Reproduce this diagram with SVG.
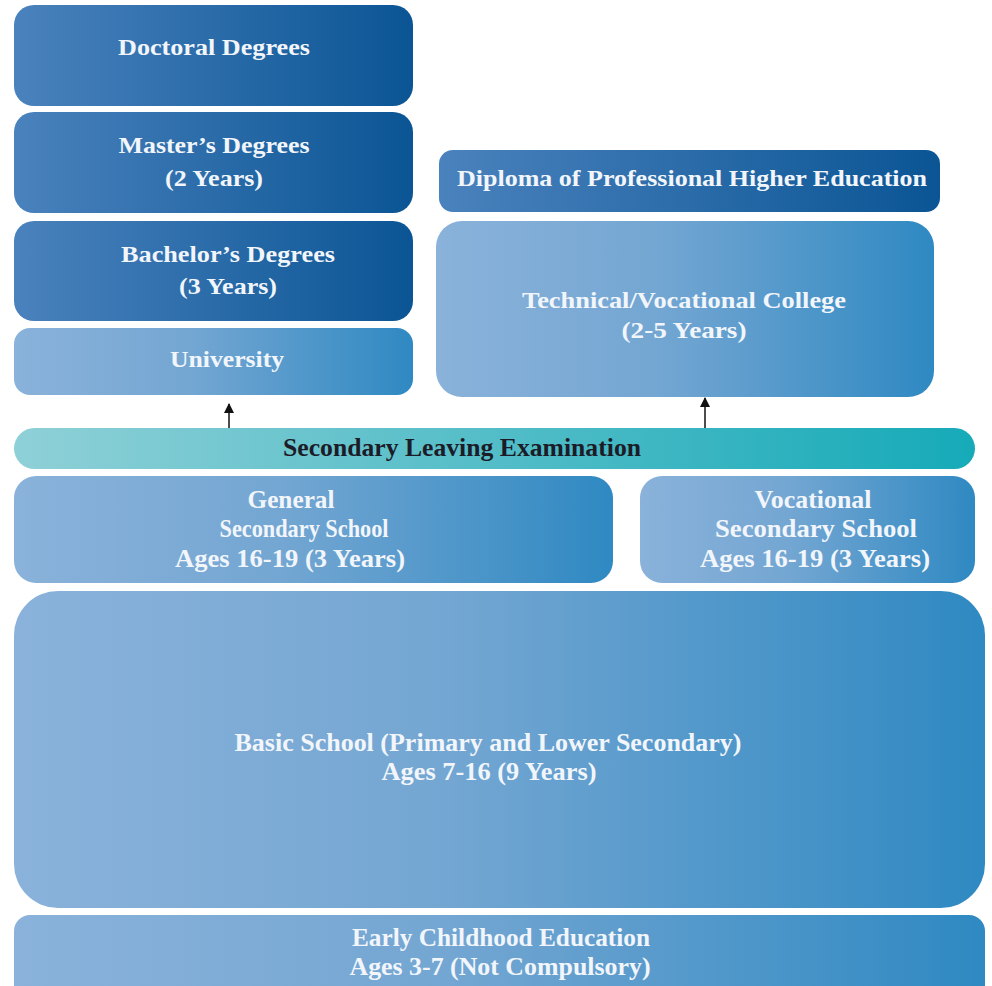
<svg xmlns="http://www.w3.org/2000/svg" width="992" height="986" viewBox="0 0 992 986">
<defs>
<linearGradient id="gDark" x1="0" y1="0" x2="1" y2="0">
<stop offset="0" stop-color="#4a82bd"/>
<stop offset="1" stop-color="#0b5595"/>
</linearGradient>
<linearGradient id="gLight" x1="0" y1="0" x2="1" y2="0">
<stop offset="0" stop-color="#8ab2da"/>
<stop offset="0.45" stop-color="#73a6d2"/>
<stop offset="1" stop-color="#2f89c2"/>
</linearGradient>
<linearGradient id="gTeal" x1="0" y1="0" x2="1" y2="0">
<stop offset="0" stop-color="#8fd0d7"/>
<stop offset="1" stop-color="#16aab8"/>
</linearGradient>
<marker id="arr" viewBox="0 0 10 10" refX="9" refY="5" markerWidth="7" markerHeight="7" orient="auto">
<path d="M0,0 L10,5 L0,10 z" fill="#111"/>
</marker>
</defs>
<style>
text{font-family:"Liberation Serif","DejaVu Serif",serif;font-weight:bold;font-size:24px;fill:#f2f6fb;text-anchor:middle}
.c{font-family:"Liberation Serif",serif;font-size:25px}
.dk{fill:#1c1c28}
.dark{fill:url(#gDark)}
.light{fill:url(#gLight)}
</style>
<rect width="992" height="986" fill="#ffffff"/>
<g id="doctoral"><rect class="dark" x="14" y="5" width="399" height="101" rx="20"/><text x="214" y="55" textLength="192" lengthAdjust="spacingAndGlyphs">Doctoral Degrees</text></g>
<g id="masters"><rect class="dark" x="14" y="112" width="399" height="101" rx="20"/><text x="214" y="153" textLength="191" lengthAdjust="spacingAndGlyphs">Master’s Degrees</text><text x="214" y="186" textLength="98" lengthAdjust="spacingAndGlyphs">(2 Years)</text></g>
<g id="bachelors"><rect class="dark" x="14" y="221" width="399" height="100" rx="20"/><text x="228" y="262" textLength="214" lengthAdjust="spacingAndGlyphs">Bachelor’s Degrees</text><text x="228" y="294" textLength="98" lengthAdjust="spacingAndGlyphs">(3 Years)</text></g>
<g id="university"><rect class="light" x="14" y="328" width="399" height="67" rx="16"/><text x="227" y="367" textLength="114" lengthAdjust="spacingAndGlyphs">University</text></g>
<g id="diploma"><rect class="dark" x="439" y="150" width="501" height="62" rx="14"/><text x="692" y="186" textLength="470" lengthAdjust="spacingAndGlyphs">Diploma of Professional Higher Education</text></g>
<g id="technical"><rect class="light" x="436" y="221" width="498" height="176" rx="26"/><text x="684" y="308" textLength="324" lengthAdjust="spacingAndGlyphs">Technical/Vocational College</text><text x="684" y="338" textLength="125" lengthAdjust="spacingAndGlyphs">(2-5 Years)</text></g>
<g id="connectors">
<line x1="229" y1="428" x2="229" y2="404" stroke="#111" stroke-width="1.5" marker-end="url(#arr)"/>
<line x1="705" y1="428" x2="705" y2="398" stroke="#111" stroke-width="1.5" marker-end="url(#arr)"/>
</g>
<g id="exam"><rect x="14" y="428" width="961" height="41" rx="20.5" fill="url(#gTeal)"/><text class="c dk" x="462" y="456" textLength="358" lengthAdjust="spacingAndGlyphs">Secondary Leaving Examination</text></g>
<g id="general"><rect class="light" x="14" y="476" width="599" height="107" rx="22"/><text class="c" x="291" y="508" textLength="87" lengthAdjust="spacingAndGlyphs">General</text><text class="c" x="304" y="537" textLength="169" lengthAdjust="spacingAndGlyphs">Secondary School</text><text class="c" x="290" y="567" textLength="230" lengthAdjust="spacingAndGlyphs">Ages 16-19 (3 Years)</text></g>
<g id="vocational"><rect class="light" x="640" y="476" width="335" height="107" rx="22"/><text class="c" x="813" y="508" textLength="117" lengthAdjust="spacingAndGlyphs">Vocational</text><text class="c" x="816" y="537" textLength="202" lengthAdjust="spacingAndGlyphs">Secondary  School</text><text class="c" x="815" y="567" textLength="230" lengthAdjust="spacingAndGlyphs">Ages 16-19 (3 Years)</text></g>
<g id="basic"><rect class="light" x="14" y="591" width="971" height="317" rx="44"/><text class="c" x="488" y="751" textLength="507" lengthAdjust="spacingAndGlyphs">Basic School (Primary and Lower Secondary)</text><text class="c" x="489" y="780" textLength="215" lengthAdjust="spacingAndGlyphs">Ages 7-16 (9 Years)</text></g>
<g id="early"><rect class="light" x="14" y="915" width="971" height="90" rx="16"/><text class="c" x="501" y="946" textLength="298" lengthAdjust="spacingAndGlyphs">Early Childhood Education</text><text class="c" x="500" y="975" textLength="301" lengthAdjust="spacingAndGlyphs">Ages 3-7 (Not Compulsory)</text></g>
</svg>
